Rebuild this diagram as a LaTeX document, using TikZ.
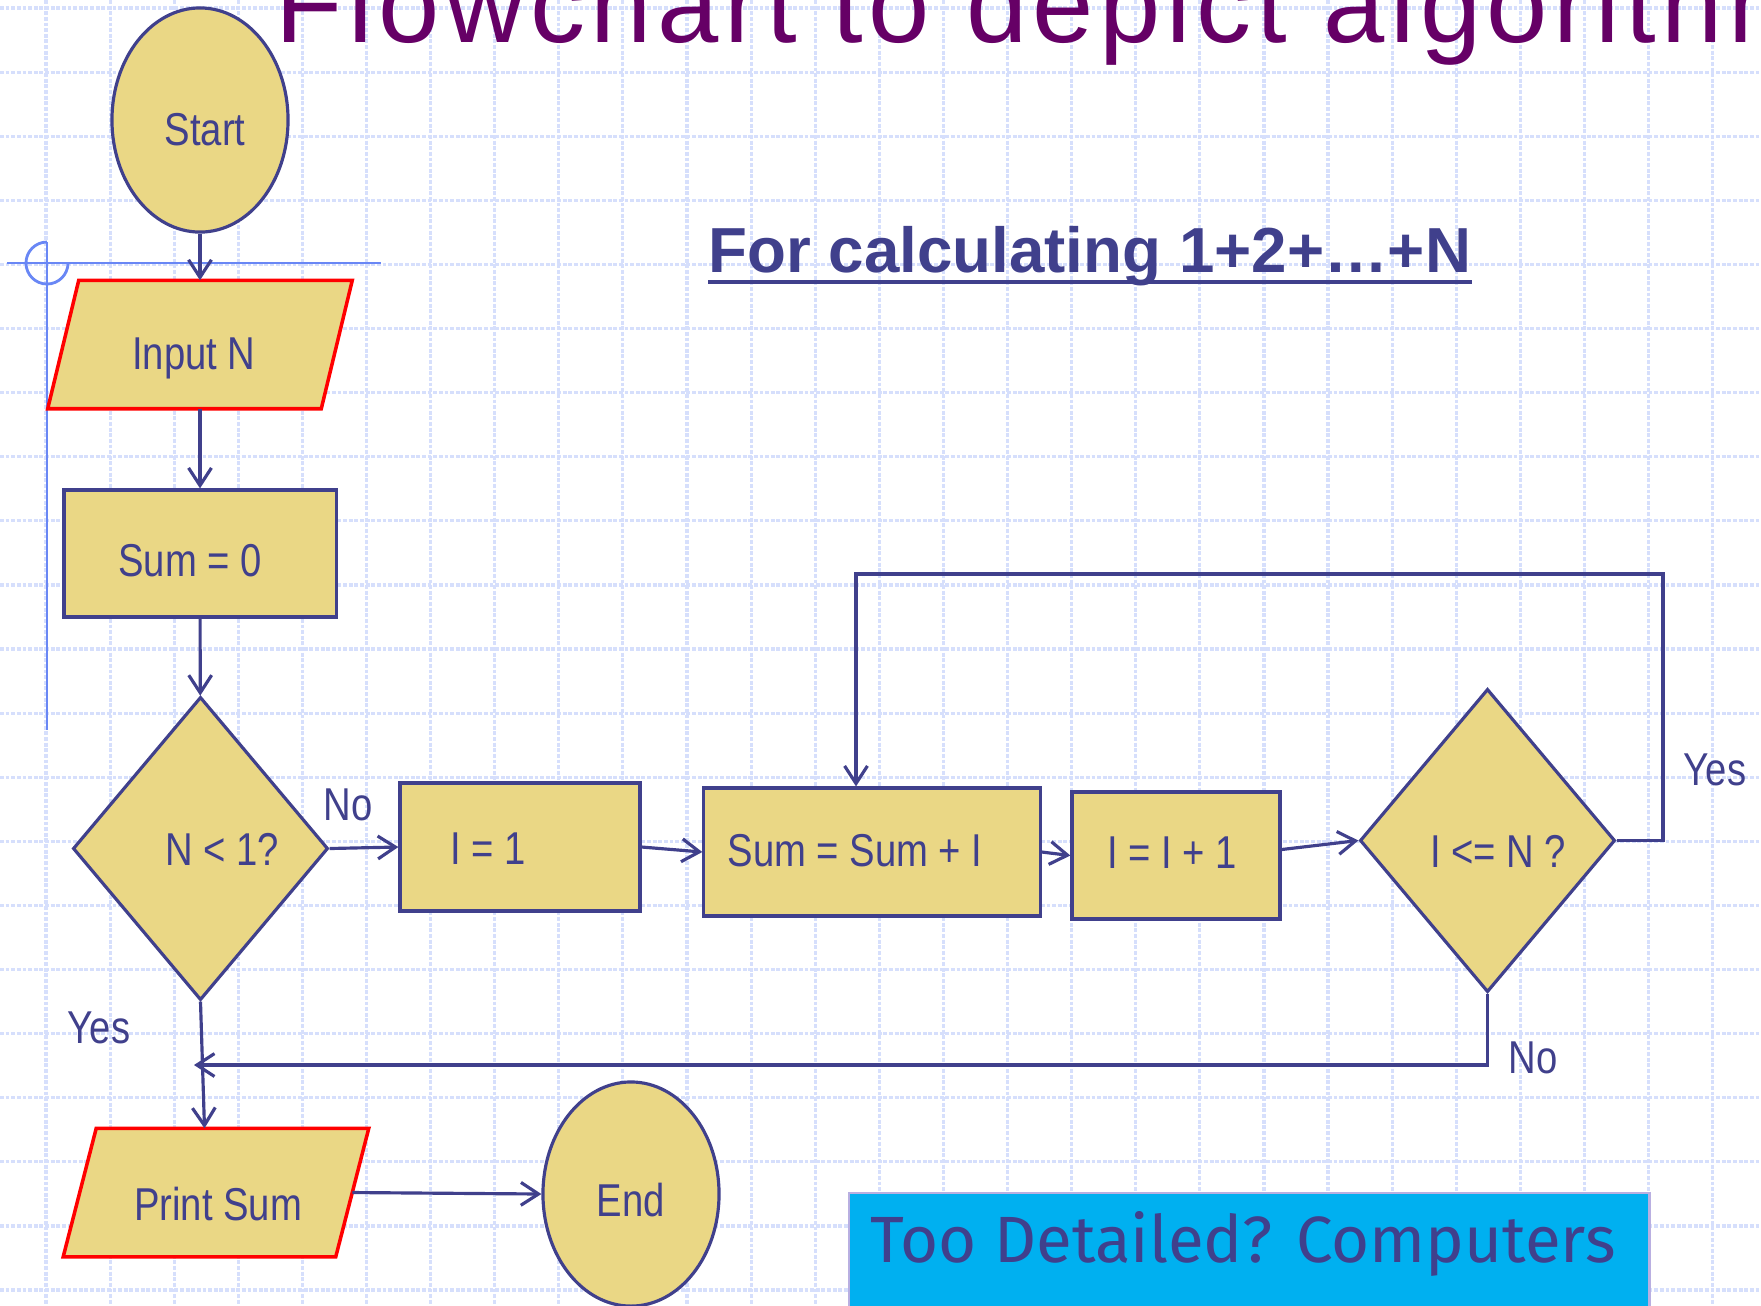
\documentclass[tikz,border=0pt]{standalone}
\usepackage{fontspec}
\setmainfont{Liberation Sans}
\newfontfamily\fcfont[FakeStretch=0.83]{Liberation Sans}
\newfontfamily\titlefont[LetterSpace=5]{Liberation Sans}
\newfontfamily\boxfont{Fira Sans}
\usetikzlibrary{shapes.geometric,arrows.meta,calc}
\definecolor{navy}{RGB}{64,64,140}
\definecolor{khaki}{RGB}{234,215,133}
\definecolor{ttl}{RGB}{102,0,102}
\definecolor{cyanbox}{RGB}{0,176,240}
\definecolor{guide}{RGB}{105,135,245}
\definecolor{gridc}{RGB}{214,223,252}
\definecolor{boxedge}{RGB}{185,175,225}
\begin{document}
\begin{tikzpicture}[x=0.01cm,y=-0.01cm,
  shapebase/.style={draw=navy, fill=khaki, line width=0.9pt, inner sep=2pt},
  oval/.style={shapebase, ellipse, minimum width=1.76cm, minimum height=2.24cm},
  procbox/.style={shapebase, rectangle, minimum height=1.27cm},
  decision/.style={shapebase, diamond, minimum width=2.55cm, minimum height=3.03cm},
  ioband/.style={rectangle, inner sep=0pt, minimum height=1.27cm},
  iopath/.style={draw=red, fill=khaki, line width=1pt, line join=miter},
  fctext/.style={font={\fcfont\fontsize{13.1pt}{15pt}\selectfont}, text=navy, inner sep=0pt, anchor=base},
  conn/.style={draw=navy, line width=0.9pt, -{Straight Barb[length=5pt,width=6.5pt]}},
  gridline/.style={draw=gridc, line width=0.9pt, dash pattern=on 1.1pt off 0.5pt},
  guideline/.style={draw=guide, line width=0.8pt},
]
\useasboundingbox (0,0) rectangle (1761,1305);
\clip (0,0) rectangle (1761,1305);
\fill[white] (0,0) rectangle (1761,1305);
% background grid
\foreach \i in {0,...,27} \draw[gridline] ({46+64.1*\i},0) -- ({46+64.1*\i},1305);
\foreach \j in {0,...,20} \draw[gridline] (0,{8+64.1*\j}) -- (1761,{8+64.1*\j});

% title and subtitle
\node[font={\titlefont\fontsize{31.3pt}{36pt}\selectfont}, text=ttl, anchor=base west, inner sep=0pt] (title) at (275,42) {Flowchart to depict algorithm};
\node[font={\bfseries\fontsize{18.1pt}{21pt}\selectfont}, text=navy, anchor=base west, inner sep=0pt] (sub) at (708,272) {For calculating 1+2+…+N};
\draw[navy, line width=1.4pt] ([yshift=-0.1cm]sub.base west) -- ([yshift=-0.1cm]sub.base east);

% guide cursor
\draw[guideline] (7,263) -- (381,263);
\draw[guideline] (47,242) -- (47,730);
\draw[guideline] (47,242) arc[start angle=90, end angle=360, radius=0.21cm];

% shapes
\node[oval] (start) at (200,120) {};
\node[ioband, minimum width=2.72cm] (input) at (200,344.5) {};
\draw[iopath] ([xshift=0.155cm]input.north west) -- ([xshift=0.155cm]input.north east)
  -- ([xshift=-0.155cm]input.south east) -- ([xshift=-0.155cm]input.south west) -- cycle;
\node[procbox, minimum width=2.72cm] (sum0) at (200,553.5) {};
\node[decision] (d1) at (200.5,848.5) {};
\node[procbox, minimum width=2.40cm, minimum height=1.28cm] (i1) at (520,847) {};
\node[procbox, minimum width=3.36cm, minimum height=1.28cm] (sumI) at (872,852) {};
\node[procbox, minimum width=2.08cm] (inc) at (1176,855.5) {};
\node[decision] (d2) at (1487.5,840.5) {};
\node[ioband, minimum width=2.71cm] (print) at (216,1192.5) {};
\draw[iopath] ([xshift=0.165cm]print.north west) -- ([xshift=0.165cm]print.north east)
  -- ([xshift=-0.165cm]print.south east) -- ([xshift=-0.165cm]print.south west) -- cycle;
\node[oval] (end) at (631,1194) {};

% texts
\node[fctext] (tStart) at (205,145) {Start};
\node[fctext] (tInput) at (194,369) {Input N};
\node[fctext] (tSum0) at (190,576) {Sum = 0};
\node[fctext] (tD1) at (222,865) {N < 1?};
\node[fctext] (tNo1) at (348,820) {No};
\node[fctext] (tI1) at (488,864) {I = 1};
\node[fctext] (tSumI) at (855,866) {Sum = Sum + I};
\node[fctext] (tInc) at (1172,868) {I = I + 1};
\node[fctext] (tD2) at (1498,867) {I <= N ?};
\node[fctext] (tYes2) at (1715,785) {Yes};
\node[fctext] (tNo2) at (1533,1073) {No};
\node[fctext] (tYes1) at (99,1043) {Yes};
\node[fctext] (tPrint) at (218,1220) {Print Sum};
\node[fctext] (tEnd) at (631,1216) {End};

% connectors
\coordinate (loopR) at (1663,574);
\coordinate (loopL) at (856,574);
\coordinate (noL) at (194,1065);
\draw[conn] (start) -- (input);
\draw[conn] (input) -- (sum0);
\draw[conn] (sum0) -- (d1);
\draw[conn] (d1.east) -- (i1.west);
\draw[conn] (i1.east) -- (sumI.west);
\draw[conn] (sumI.east) -- (inc.west);
\draw[conn] ([yshift=0.06cm]inc.east) -- (d2.west);
\draw[conn] (d2.east) -| (loopR) -- (loopL) -- (loopL |- sumI.north);
\draw[conn] (d2.south) |- (noL);
\draw[conn] (d1.south) -- ([xshift=0.04cm]d1.south |- print.north);
\draw[conn] (print.east) -- (end.west);

% note box
\node[draw=boxedge, fill=cyanbox, line width=0.6pt, minimum width=8cm, minimum height=1.4cm, anchor=north west, inner sep=0pt] (note) at (848,1192) {};
\node[font={\boxfont\fontsize{18.6pt}{22pt}\selectfont}, text=navy, anchor=base, inner sep=0pt] (notetext) at (1243,1262) {Too Detailed? Computers};
\end{tikzpicture}
\end{document}
